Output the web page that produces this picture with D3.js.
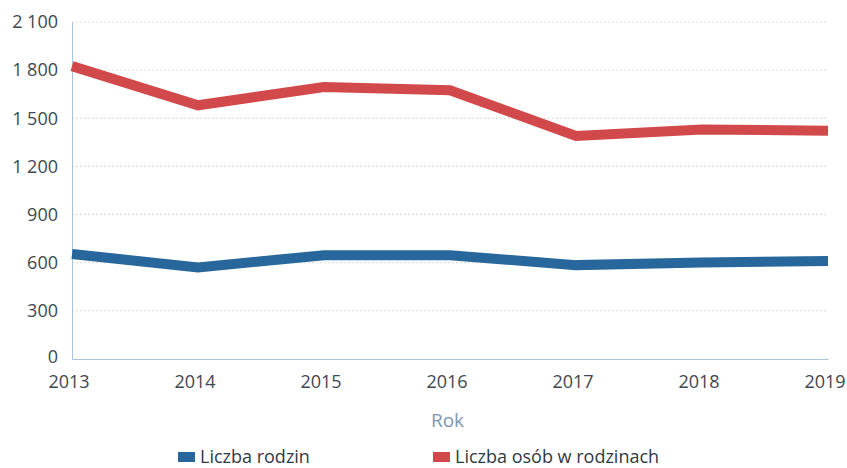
<!DOCTYPE html>
<html><head><meta charset="utf-8">
<script src="https://cdn.jsdelivr.net/npm/d3@7"></script>
<style>body{margin:0;background:#fff}svg{display:block}text{font-family:"Open Sans","Noto Sans",sans-serif}</style>
</head><body><svg id="c" width="847" height="468"></svg>
<script>
const years = [2013, 2014, 2015, 2016, 2017, 2018, 2019];
const rodziny = [654, 571, 647, 646, 585, 602, 610];
const osoby = [1825, 1581, 1695, 1675, 1390, 1430, 1423];
const yTicks = [0, 300, 600, 900, 1200, 1500, 1800, 2100];
const seriesNames = ["Liczba rodzin", "Liczba osób w rodzinach"];
const colors = ["#27679c", "#d2494b"];

const svg = d3.select("#c");
const m = {l: 72, r: 19, t: 22, b: 109};
const W = 847, H = 468;
const x = d3.scalePoint().domain(years).range([m.l, W - m.r]);
const y = d3.scaleLinear().domain([0, 2100]).range([H - m.b, m.t]);
const loc = d3.formatLocale({decimal: ",", thousands: "\u00a0", grouping: [3], currency: ["", " zł"]});
const fmt = loc.format(",d");

// gridlines
svg.append("g").selectAll("line").data(yTicks.filter(d => d > 0)).join("line")
  .attr("x1", m.l).attr("x2", W - m.r)
  .attr("y1", d => y(d)).attr("y2", d => y(d))
  .attr("stroke", "#d8d8d8").attr("stroke-width", 1).attr("stroke-dasharray", "2,2");

// y axis
const ya = svg.append("g").attr("transform", `translate(${m.l},0)`)
  .call(d3.axisLeft(y).tickValues(yTicks).tickFormat(fmt).tickSize(0).tickPadding(14));
ya.select(".domain").attr("stroke", "#a8c3dc");
ya.selectAll("text").attr("font-size", 18).attr("fill", "#3f4850")
  .attr("dy", d => d === 0 ? "0.22em" : "0.32em");

// x axis
const xa = svg.append("g").attr("transform", `translate(0,${H - m.b})`)
  .call(d3.axisBottom(x).tickSize(0).tickPadding(16));
xa.select(".domain").attr("stroke", "#a8c3dc");
xa.selectAll("text").attr("font-size", 18).attr("fill", "#3f4850").attr("dx", -3.5);

// lines
const line = d3.line().x((d, i) => x(years[i])).y(d => y(d));
[rodziny, osoby].forEach((s, k) => {
  svg.append("path").datum(s).attr("d", line).attr("fill", "none")
    .attr("stroke", colors[k]).attr("stroke-width", 10).attr("stroke-linejoin", "miter");
});

// axis title
svg.append("text").attr("x", 447.5).attr("y", 427).attr("text-anchor", "middle")
  .attr("font-size", 19).attr("fill", "#7d97b2").text("Rok");

// legend
const legX = [178, 433];
seriesNames.forEach((n, k) => {
  svg.append("rect").attr("x", legX[k]).attr("y", 452).attr("width", 17).attr("height", 10).attr("fill", colors[k]);
  svg.append("text").attr("x", legX[k] + 22).attr("y", 463).attr("font-size", 18).attr("fill", "#2f3a44").text(n);
});
</script></body></html>
